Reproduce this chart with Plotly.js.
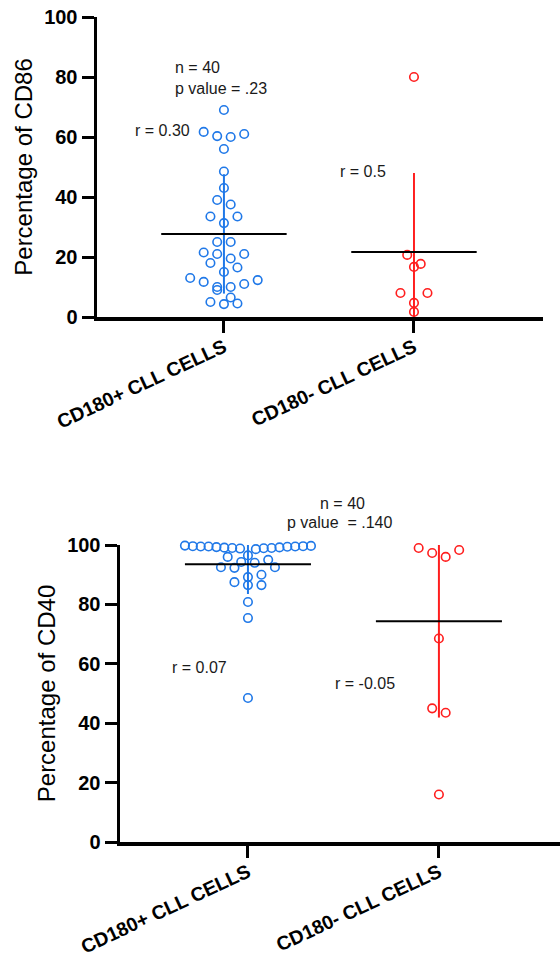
<!DOCTYPE html>
<html><head><meta charset="utf-8">
<script src="https://cdn.plot.ly/plotly-3.0.1.min.js"></script>
<style>html,body{margin:0;padding:0;background:#fff}#chart{width:560px;height:965px}</style>
</head><body><div id="chart"></div>
<script>
// ---------- data ----------
const categories = ['CD180+ CLL CELLS', 'CD180- CLL CELLS'];
const yTicks = [0, 20, 40, 60, 80, 100];

const cd86Positive = [69, 61.7, 61, 60.3, 60, 56, 48.5, 43, 39, 37.5, 33.5, 33.5, 31.3, 25, 25, 21.5, 21, 21,
  19.5, 18, 16.5, 15, 13, 12.3, 11.7, 11, 10, 10, 9, 6.5, 5, 4.5, 4.3];
const cd86Negative = [80, 20.7, 17.7, 16.7, 8, 8, 4.7, 1.7];
const cd86Mean = [27.7, 21.7];
const cd86SD = [19.9, 26.3];

const cd40Positive = [99.8, 99.5, 99, 99.5, 98.8, 99.6, 99.2, 98.6, 99.7, 99.1, 99.4, 98.9, 99.6, 99.3, 99, 99.5,
  96.5, 96, 95, 94.3, 94, 92.5, 92.5, 92.3, 90, 89.2, 87.5, 86.5, 86.5, 80.8, 75.4, 48.5];
const cd40Negative = [99, 98.3, 97.3, 96, 68.5, 45, 43.5, 16];
const cd40Mean = [93.5, 74.3];
const cd40SD = [10, 32.4];

const notesTop = ['n = 40', 'p value = .23', 'r = 0.30', 'r = 0.5'];
const notesBottom = ['n = 40', 'p value  = .140', 'r = 0.07', 'r = -0.05'];
const titles = ['Percentage of CD86', 'Percentage of CD40'];

// ---------- layout / styles ----------
const W = 560, H = 965;
const BLUE = '#1f78e8', RED = '#ff1e1e';
const MEAN_HALF = 0.33;
const SLOT_PX = 13.5;   // horizontal spacing of points in a row
const ROW_PX = 10;      // vertical height of a row

const panels = [
  { x0: 97, x1: 543, yTop: 17, yBot: 317, xr: [-0.668, 1.679],
    pos: cd86Positive, neg: cd86Negative, mean: cd86Mean, sd: cd86SD, title: titles[0],
    notes: notesTop, notePx: [[173, 67], [173, 89], [133, 130], [338, 172]] },
  { x0: 120, x1: 560, yTop: 545, yBot: 842, xr: [-0.67, 1.634],
    pos: cd40Positive, neg: cd40Negative, mean: cd40Mean, sd: cd40SD, title: titles[1],
    notes: notesBottom, notePx: [[318, 503], [285, 522], [170, 667], [333, 683]] }
];

// Prism-like scatter: group values into rows, spread each row around the centre
function swarm(vals, pxX, pxY) {
  const idx = vals.map((_, i) => i).sort((a, b) => vals[b] - vals[a]);
  const rowH = ROW_PX / pxY;
  const rows = [];
  idx.forEach(i => {
    const r = rows[rows.length - 1];
    if (r && vals[r[0]] - vals[i] <= rowH) r.push(i); else rows.push([i]);
  });
  const out = new Array(vals.length);
  const maxHalf = MEAN_HALF * pxX;
  rows.forEach(r => {
    const m = r.length;
    const s = m > 1 ? Math.min(SLOT_PX, 2 * maxHalf / (m - 1)) : 0;
    const asc = r.slice().sort((a, b) => vals[a] - vals[b]);
    const slots = [];
    if (m % 2) { slots.push(0); for (let k = 1; slots.length < m; k++) { slots.push(k * s); slots.push(-k * s); } }
    else { for (let k = 0; slots.length < m; k++) { slots.push((k + 0.5) * s); slots.push(-(k + 0.5) * s); } }
    asc.forEach((i, j) => { out[i] = slots[j] / pxX; });
  });
  return out;
}

const traces = [];
const layout = {
  width: W, height: H, margin: { l: 0, r: 0, t: 0, b: 0 },
  paper_bgcolor: '#fff', plot_bgcolor: '#fff', showlegend: false, annotations: []
};

const tickFont = { family: 'Liberation Sans', size: 20, weight: 'bold', color: '#000' };
const xTickFont = { family: 'Liberation Sans', size: 19.5, weight: 'bold', color: '#000' };

panels.forEach((p, k) => {
  const n = k === 0 ? '' : '2';
  const xa = 'x' + n, ya = 'y' + n;
  const pxX = (p.x1 - p.x0) / (p.xr[1] - p.xr[0]);
  const pxY = (p.yBot - p.yTop) / 100;
  const groups = [p.pos, p.neg];
  const colors = [BLUE, RED];

  // SD bars
  groups.forEach((g, c) => {
    traces.push({
      type: 'scatter', mode: 'markers', x: [c], y: [p.mean[c]], xaxis: xa, yaxis: ya,
      marker: { size: 1, opacity: 0 }, hoverinfo: 'skip',
      error_y: { type: 'data', symmetric: false,
        array: [Math.min(p.sd[c], 100 - p.mean[c])], arrayminus: [Math.min(p.sd[c], p.mean[c])],
        color: colors[c], thickness: 2, width: 0 }
    });
  });
  // points
  groups.forEach((g, c) => {
    const off = swarm(g, pxX, pxY);
    traces.push({
      type: 'scatter', mode: 'markers', x: off.map(o => c + o), y: g, xaxis: xa, yaxis: ya,
      cliponaxis: false,
      marker: { symbol: 'circle-open', size: 8.5, color: colors[c], line: { width: 1.6, color: colors[c] } },
      hoverinfo: 'y'
    });
  });
  // mean lines
  groups.forEach((g, c) => {
    traces.push({
      type: 'scatter', mode: 'lines', x: [c - MEAN_HALF, c + MEAN_HALF], y: [p.mean[c], p.mean[c]],
      xaxis: xa, yaxis: ya, line: { color: '#000', width: 2 }, hoverinfo: 'skip'
    });
  });

  layout['xaxis' + n] = {
    domain: [p.x0 / W, p.x1 / W], range: p.xr, anchor: ya,
    tickvals: [0, 1], ticktext: categories, tickangle: -25, ticklabelstandoff: -4,
    showline: true, linewidth: 3.5, linecolor: '#000',
    ticks: 'outside', ticklen: 12, tickwidth: 3, tickcolor: '#000',
    showgrid: false, zeroline: false, tickfont: xTickFont, fixedrange: true
  };
  layout['yaxis' + n] = {
    domain: [(H - p.yBot) / H, (H - p.yTop) / H], range: [0, 100], anchor: xa,
    tickvals: yTicks, showline: true, linewidth: 3.5, linecolor: '#000',
    ticks: 'outside', ticklen: 12, tickwidth: 3, tickcolor: '#000',
    showgrid: false, zeroline: false, tickfont: tickFont, fixedrange: true,
    title: { text: p.title, font: { family: 'Liberation Sans', size: 24, color: '#000' }, standoff: 5 }
  };

  p.notes.forEach((t, i) => {
    layout.annotations.push({
      text: t, xref: 'paper', yref: 'paper',
      x: p.notePx[i][0] / W, y: (H - p.notePx[i][1]) / H,
      xanchor: 'left', yanchor: 'middle', showarrow: false,
      font: { family: 'Liberation Sans', size: 16, color: '#1a1a1a' }
    });
  });
});

Plotly.newPlot('chart', traces, layout, { staticPlot: true, displayModeBar: false });
</script>
</body></html>
